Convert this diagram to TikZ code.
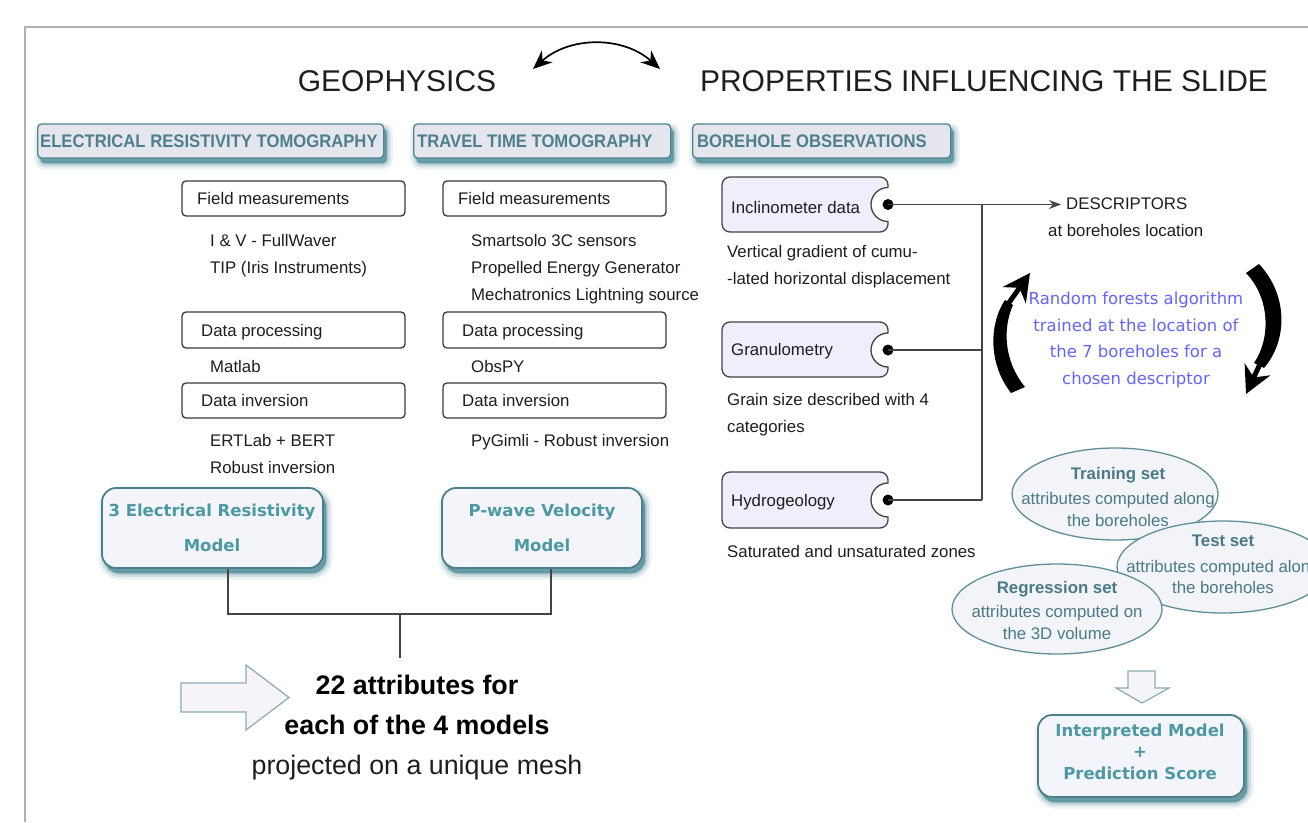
\documentclass[tikz,border=0pt]{standalone}
\usepackage{fontspec}
\setmainfont{Liberation Sans}
\newfontfamily\dvfont{DejaVu Sans}
\newfontfamily\hdrfont[FakeStretch=0.915]{Liberation Sans}
\usetikzlibrary{shapes.geometric,arrows.meta,calc}
\newcommand\fsz[1]{\fontsize{#1}{#1}\selectfont}
\definecolor{txtc}{HTML}{1E1E1E}
\definecolor{boxc}{HTML}{3A3A3A}
\definecolor{hdrc}{HTML}{4F8590}
\definecolor{hdrfill}{HTML}{E5E5ED}
\definecolor{hdrtext}{HTML}{4E808C}
\definecolor{shc}{HTML}{4F8C98}
\definecolor{modc}{HTML}{4B7F8A}
\definecolor{modfill}{HTML}{F4F5FA}
\definecolor{modtext}{HTML}{4C98A3}
\definecolor{ellc}{HTML}{5E8F99}
\definecolor{ellfill}{HTML}{F3F4F8}
\definecolor{elltext}{HTML}{4A7A85}
\definecolor{bhc}{HTML}{444444}
\definecolor{bhfill}{HTML}{EFEFFC}
\definecolor{rfblue}{HTML}{6464FF}
\definecolor{bac}{HTML}{8AACB3}
\definecolor{bafill}{HTML}{F4F4F9}
\definecolor{framec}{HTML}{B0B0B0}
\definecolor{connc}{HTML}{444444}
\begin{document}
\begin{tikzpicture}[x=1pt,y=-1pt,
  tshadow/.style={
    preaction={draw=shc, draw opacity=0.10, line width=13pt, transform canvas={shift={(3pt,-5pt)}}},
    preaction={draw=shc, draw opacity=0.18, line width=8pt, transform canvas={shift={(3pt,-5pt)}}},
    preaction={draw=shc, fill=shc, draw opacity=0.35, fill opacity=0.8, line width=3pt, transform canvas={shift={(3pt,-5pt)}}}},
  txt/.style={anchor=base west, inner sep=0pt, font=\fsz{16.8}, text=txtc},
  fieldbox/.style={draw=boxc, line width=1.3pt, rounded corners=4pt, fill=white, minimum width=223pt, minimum height=35pt, inner sep=0pt},
  hdrbox/.style={draw=hdrc, fill=hdrfill, line width=1.3pt, rounded corners=4pt, minimum height=34pt, inner sep=0pt, anchor=west, tshadow},
  hdrtxt/.style={anchor=west, inner sep=0pt, font=\hdrfont\bfseries\fsz{18.2}, text=hdrtext},
  modelbox/.style={draw=modc, fill=modfill, line width=1.8pt, rounded corners=14pt, inner sep=0pt, tshadow},
  modtxt/.style={anchor=base, inner sep=0pt, font=\dvfont\bfseries\fsz{16.5}, text=modtext},
  ell/.style={ellipse, draw=ellc, fill=ellfill, line width=1.3pt, inner sep=0pt},
  elltitle/.style={anchor=base, inner sep=0pt, font=\bfseries\fsz{16.8}, text=elltext},
  ellbody/.style={anchor=base, inner sep=0pt, font=\fsz{16.8}, text=elltext},
  bh/.style={draw=bhc, fill=bhfill, line width=1.3pt},
  bhdot/.style={circle, fill=black, inner sep=0pt, minimum size=11pt},
  rftxt/.style={anchor=base, inner sep=0pt, font=\dvfont\fsz{16.5}, text=rfblue},
  blockarrow/.style={draw=bac, fill=bafill, line width=1.2pt},
  conn/.style={draw=connc, line width=1.3pt}
]
\useasboundingbox (0,0) rectangle (1308,822);
\fill[white] (0,0) rectangle (1308,822);
% frame
\draw[framec, line width=2.2pt] (25,822) -- (25,27) -- (1308,27);

% titles
\node[anchor=base, inner sep=0pt, font=\fsz{30}, text=txtc] (geo) at (397,91) {GEOPHYSICS};
\node[anchor=base, inner sep=0pt, font=\fsz{30}, text=txtc] (prop) at (984,91) {PROPERTIES INFLUENCING THE SLIDE};
\coordinate (dl) at (533,69);
\coordinate (dr) at (660,69);
\draw[line width=1.7pt, {Stealth[length=19pt,width=16pt]}-{Stealth[length=19pt,width=16pt]}] (dl) .. controls (570,36) and (623,36) .. (dr);

% header boxes
\node[hdrbox, minimum width=346pt] (hERT) at (37,141) {};
\node[hdrtxt] (hERTt) at (40,141) {ELECTRICAL RESISTIVITY TOMOGRAPHY};
\node[hdrbox, minimum width=257pt] (hTTT) at (413,141) {};
\node[hdrtxt] (hTTTt) at (417,141) {TRAVEL TIME TOMOGRAPHY};
\node[hdrbox, minimum width=258pt] (hBH) at (692,141) {};
\node[hdrtxt] (hBHt) at (697,141) {BOREHOLE OBSERVATIONS};

% ERT column
\node[fieldbox] (fmE) at (293.5,198.5) {};
\node[txt] (fmEt) at (197,204) {Field measurements};
\node[txt] (e1) at (210,246) {I \& V - FullWaver};
\node[txt] (e2) at (210,273) {TIP (Iris Instruments)};
\node[fieldbox, minimum height=36pt] (dpE) at (293.5,330) {};
\node[txt] (dpEt) at (201,336) {Data processing};
\node[txt] (e3) at (210,372) {Matlab};
\node[fieldbox] (diE) at (293.5,400.5) {};
\node[txt] (diEt) at (201,406) {Data inversion};
\node[txt] (e4) at (210,446) {ERTLab + BERT};
\node[txt] (e5) at (210,473) {Robust inversion};

% TTT column
\node[fieldbox] (fmT) at (554.5,198.5) {};
\node[txt] (fmTt) at (458,204) {Field measurements};
\node[txt] (t1) at (471,246) {Smartsolo 3C sensors};
\node[txt] (t2) at (471,273) {Propelled Energy Generator};
\node[txt] (t3) at (471,300) {Mechatronics Lightning source};
\node[fieldbox, minimum height=36pt] (dpT) at (554.5,330) {};
\node[txt] (dpTt) at (462,336) {Data processing};
\node[txt] (t4) at (471,372) {ObsPY};
\node[fieldbox] (diT) at (554.5,400.5) {};
\node[txt] (diTt) at (462,406) {Data inversion};
\node[txt] (t5) at (471,446) {PyGimli - Robust inversion};

% model boxes
\node[modelbox, minimum width=221pt, minimum height=80pt] (ertm) at (212.5,528) {};
\node[modtxt] (ertm1) at (212,516) {3 Electrical Resistivity};
\node[modtxt] (ertm2) at (212,551) {Model};
\node[modelbox, minimum width=200pt, minimum height=80pt] (pwm) at (542,528) {};
\node[modtxt] (pwm1) at (542,516) {P-wave Velocity};
\node[modtxt] (pwm2) at (542,551) {Model};

\coordinate (jl) at (228,614);
\coordinate (jr) at (551,614);
\coordinate (jm) at (400,614);
\coordinate (jb) at (400,658);
\draw[conn] (ertm.south -| jl) -- (jl) -- (jr) -- (pwm.south -| jr);
\draw[conn] (jm) -- (jb);

% bottom left
\filldraw[blockarrow] (181,683) -- (246,683) -- (246,665) -- (289,697.5) -- (246,730) -- (246,712) -- (181,712) -- cycle;
\node[anchor=base, inner sep=0pt, font=\bfseries\fsz{26.8}, text=black] (attr1) at (417,694) {22 attributes for};
\node[anchor=base, inner sep=0pt, font=\bfseries\fsz{26.8}, text=black] (attr2) at (417,734) {each of the 4 models};
\node[anchor=base, inner sep=0pt, font=\fsz{26.8}, text=txtc] (attr3) at (417,774) {projected on a unique mesh};

% borehole boxes
\filldraw[bh] (888,187.5) [rounded corners=8pt] -- (888,177) -- (722,177) -- (722,232) -- (888,232) [sharp corners] -- (888,221.5) arc(90:270:17) -- cycle;
\node[bhdot] (dotI) at (888,204.5) {};
\node[txt] (inc) at (731,213) {Inclinometer data};
\node[txt] (inc1) at (727,257) {Vertical gradient of cumu-};
\node[txt] (inc2) at (727,284) {-lated horizontal displacement};

\filldraw[bh] (888,333) [rounded corners=8pt] -- (888,322) -- (722,322) -- (722,377) -- (888,377) [sharp corners] -- (888,367) arc(90:270:17) -- cycle;
\node[bhdot] (dotG) at (888,350) {};
\node[txt] (gra) at (731,355) {Granulometry};
\node[txt] (gra1) at (727,405) {Grain size described with 4};
\node[txt] (gra2) at (727,432) {categories};

\filldraw[bh] (888,483) [rounded corners=8pt] -- (888,472) -- (722,472) -- (722,528) -- (888,528) [sharp corners] -- (888,517) arc(90:270:17) -- cycle;
\node[bhdot] (dotH) at (888,500) {};
\node[txt] (hyd) at (731,506) {Hydrogeology};
\node[txt] (hyd1) at (727,557) {Saturated and unsaturated zones};

% connectors to descriptors
\node[txt] (desc) at (1066,209) {DESCRIPTORS};
\node[txt] (desc2) at (1048,236) {at boreholes location};
\coordinate (dtip) at (1061,204.5);
\coordinate (vtop) at (982,204.5);
\coordinate (vbot) at (982,500);
\draw[conn, -{Stealth[length=12pt,width=9pt]}] (dotI.center) -- (dtip);
\draw[conn] (vtop) -- (vbot);
\draw[conn] (dotG.center) -- (dotG -| vtop);
\draw[conn] (dotH.center) -- (dotH -| vtop);

% random forest
\node[rftxt] (rf1) at (1136,304) {Random forests algorithm};
\node[rftxt] (rf2) at (1136,331) {trained at the location of};
\node[rftxt] (rf3) at (1136,357) {the 7 boreholes for a};
\node[rftxt] (rf4) at (1136,384) {chosen descriptor};
\fill[black] (1011,393) .. controls (987,362) and (990,322) .. (1005,300) -- (1013,305) .. controls (1003,327) and (1003,360) .. (1025,387) -- cycle;
\draw[line width=5pt, -{Stealth[length=27pt,width=28pt]}] (1008,304) -- (1030,273);
\fill[black] (1246,273) .. controls (1270,298) and (1271,338) .. (1254,363) -- (1264,368) .. controls (1288,340) and (1288,295) .. (1259,264) -- cycle;
\draw[line width=5pt, -{Stealth[length=27pt,width=28pt]}] (1260,364) -- (1246,394);

% ellipses
\node[ell, minimum width=206pt, minimum height=92pt] (train) at (1115,494) {};
\node[elltitle] (train1) at (1118,479) {Training set};
\node[ellbody] (train2) at (1118,504) {attributes computed along};
\node[ellbody] (train3) at (1118,526) {the boreholes};

\node[ell, minimum width=212pt, minimum height=92pt] (test) at (1223,567) {};
\node[elltitle] (test1) at (1223,546) {Test set};
\node[ellbody] (test2) at (1223,572) {attributes computed along};
\node[ellbody] (test3) at (1223,593) {the boreholes};

\node[ell, minimum width=210pt, minimum height=90pt] (reg) at (1057,609) {};
\node[elltitle] (reg1) at (1057,593) {Regression set};
\node[ellbody] (reg2) at (1057,617) {attributes computed on};
\node[ellbody] (reg3) at (1057,639) {the 3D volume};

% down arrow and result
\filldraw[blockarrow] (1128,671) -- (1155,671) -- (1155,688) -- (1169,688) -- (1142,703) -- (1116,688) -- (1128,688) -- cycle;
\node[modelbox, minimum width=206pt, minimum height=82pt] (interp) at (1141,756) {};
\node[modtxt] (interp1) at (1140,736) {Interpreted Model};
\node[modtxt] (interp2) at (1140,757) {+};
\node[modtxt] (interp3) at (1140,779) {Prediction Score};
\end{tikzpicture}
\end{document}
